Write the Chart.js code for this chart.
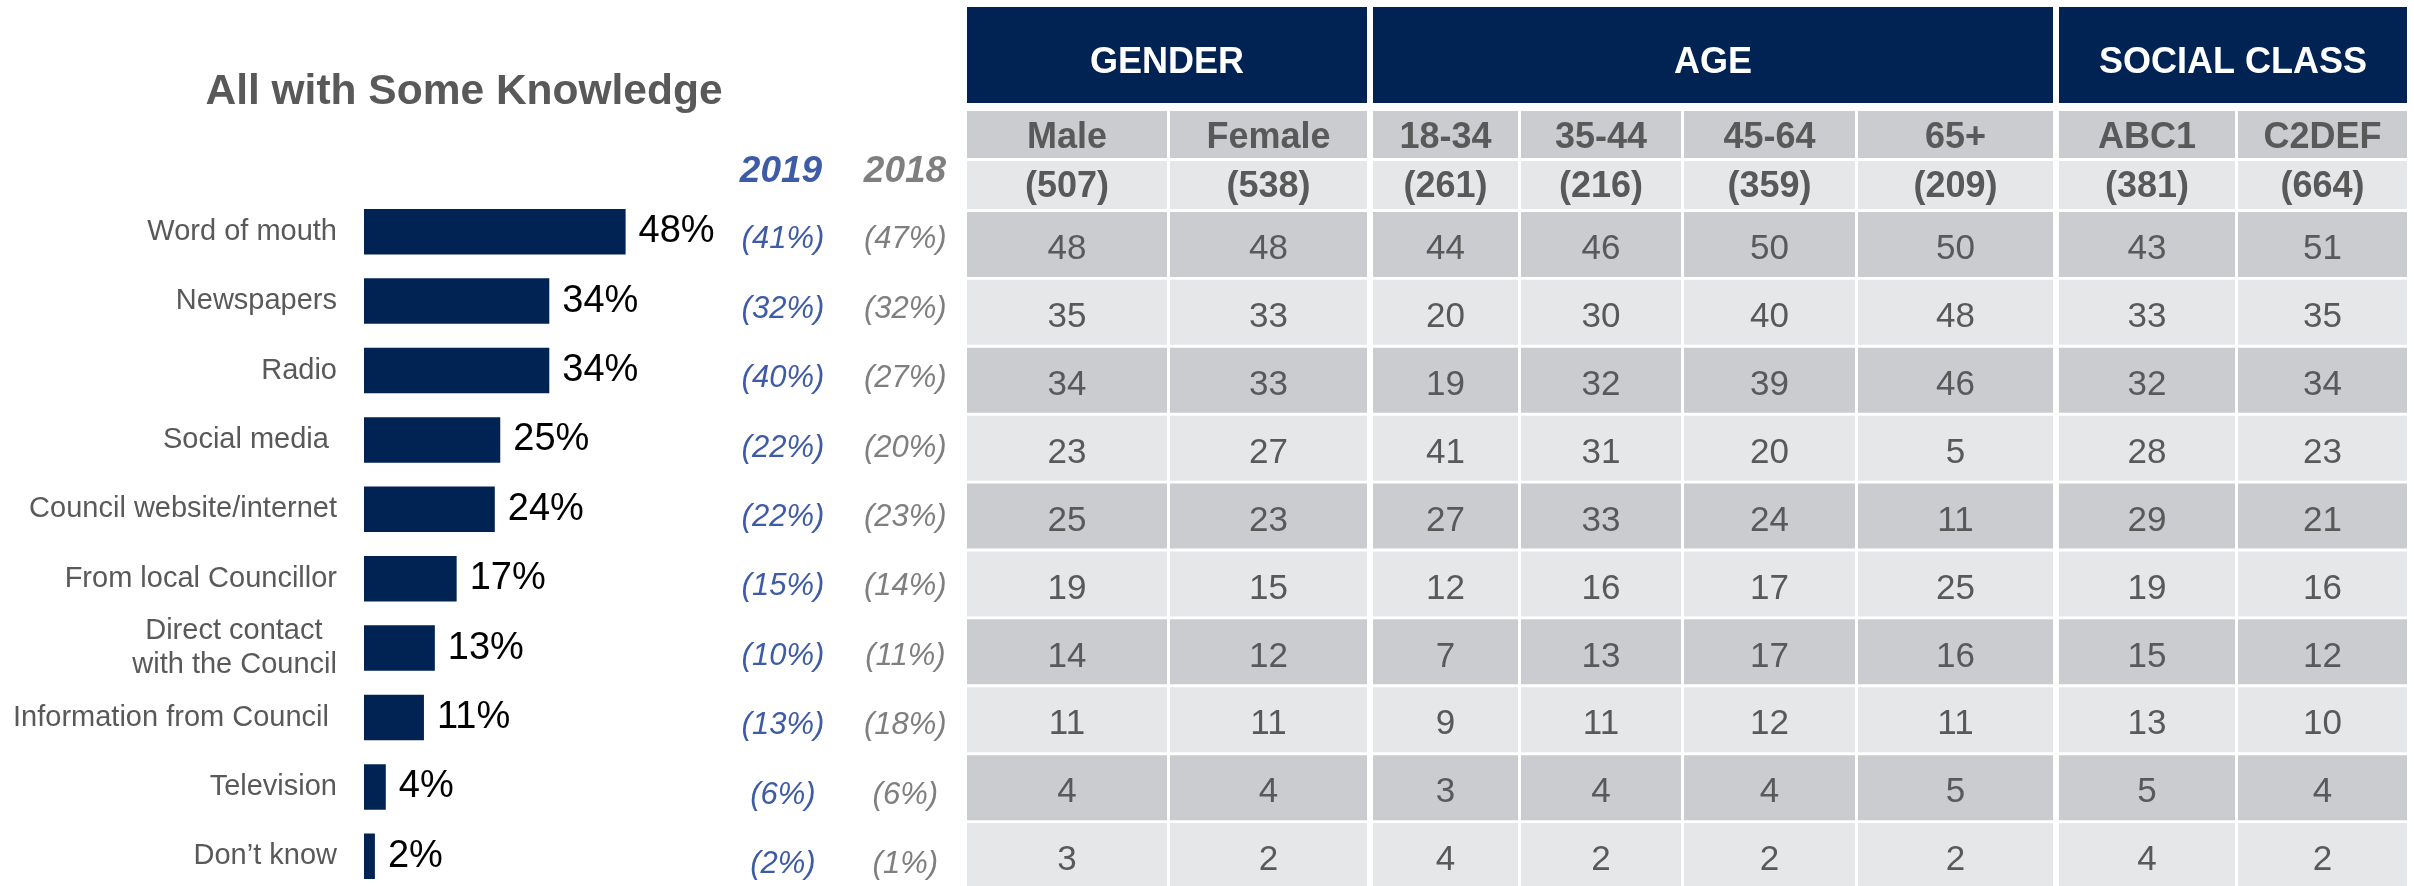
<!DOCTYPE html>
<html>
<head>
<meta charset="utf-8">
<script src="https://cdn.jsdelivr.net/npm/chart.js@4.4.1/dist/chart.umd.min.js"></script>
<style>
  html, body { margin: 0; padding: 0; background: #fff; overflow: hidden; }
  #wrap { position: relative; width: 2414px; height: 886px; overflow: hidden; }
  #left { position: absolute; left: 0; top: 0; width: 966px; height: 896px; }
  #table { position: absolute; left: 966px; top: 0; width: 1448px; height: 896px; }
</style>
</head>
<body>
<div id="wrap">
  <div id="left"><canvas id="bars"></canvas></div>
  <div id="table"><canvas id="grid"></canvas></div>
</div>
<script>
// ---- data ----
var categories = ['Word of mouth', 'Newspapers', 'Radio', 'Social media ', 'Council website/internet',
  'From local Councillor', ['Direct contact\u2002', 'with the Council'], 'Information from Council ',
  'Television', 'Don\u2019t know'];
var current = [48, 34, 34, 25, 24, 17, 13, 11, 4, 2];
var wave2019 = [41, 32, 40, 22, 22, 15, 10, 13, 6, 2];
var wave2018 = [47, 32, 27, 20, 23, 14, 11, 18, 6, 1];

var groups = ['GENDER', 'AGE', 'SOCIAL CLASS'];
var groupSizes = [2, 4, 2];
var columns = ['Male', 'Female', '18-34', '35-44', '45-64', '65+', 'ABC1', 'C2DEF'];
var bases = [507, 538, 261, 216, 359, 209, 381, 664];

var male = [48, 35, 34, 23, 25, 19, 14, 11, 4, 3];
var female = [48, 33, 33, 27, 23, 15, 12, 11, 4, 2];
var age1834 = [44, 20, 19, 41, 27, 12, 7, 9, 3, 4];
var age3544 = [46, 30, 32, 31, 33, 16, 13, 11, 4, 2];
var age4564 = [50, 40, 39, 20, 24, 17, 17, 12, 4, 2];
var age65 = [50, 48, 46, 5, 11, 25, 16, 11, 5, 2];
var abc1 = [43, 33, 32, 28, 29, 19, 15, 13, 5, 4];
var c2def = [51, 35, 34, 23, 21, 16, 12, 10, 4, 2];
var columnValues = [male, female, age1834, age3544, age4564, age65, abc1, c2def];

// ---- look ----
var FONT = '"Liberation Sans", Arial, sans-serif';
var NAVY = '#002353';
var GREY_TEXT = '#595959';
var BLUE = '#3d5ba6';
var GREY_YEAR = '#7f7f7f';
var DARK_ROW = '#cbccd0';
var LIGHT_ROW = '#e6e7e9';

Chart.defaults.font.family = FONT;
Chart.defaults.animation = false;

// column widths of the table (in table units), gaps inside / between groups
var colWidths = [200, 197, 145, 160, 171, 195, 176, 169];
var colEdges = [];
(function () {
  var pos = 1, g = 0, inGroup = 0;
  colWidths.forEach(function (w, i) {
    if (i > 0) {
      inGroup++;
      if (inGroup === groupSizes[g]) { g++; inGroup = 0; pos += 6; } else { pos += 3; }
    }
    colEdges.push([pos, pos + w]);
    pos += w;
  });
})();

// keep axis label overhang from shrinking the plot area
function fixWidth(w) {
  return function (scale) {
    scale.width = w;
    scale.paddingTop = 0;
    scale.paddingBottom = 0;
  };
}

// ---- left: bar chart ----
var leftText = {
  id: 'leftText',
  afterDatasetsDraw: function (chart) {
    var ctx = chart.ctx;
    var meta = chart.getDatasetMeta(0);
    ctx.save();
    ctx.fillStyle = '#000';
    ctx.font = '38px ' + FONT;
    ctx.textAlign = 'left';
    ctx.textBaseline = 'middle';
    meta.data.forEach(function (bar, i) {
      ctx.fillText(current[i] + '%', bar.x + 13, bar.y);
    });

    ctx.textAlign = 'center';
    ctx.textBaseline = 'alphabetic';
    ctx.fillStyle = GREY_TEXT;
    ctx.font = 'bold 42.5px ' + FONT;
    ctx.fillText('All with Some Knowledge', 464, 104);

    ctx.font = 'italic bold 37px ' + FONT;
    ctx.fillStyle = BLUE;
    ctx.fillText('2019', 781, 182);
    ctx.fillStyle = GREY_YEAR;
    ctx.fillText('2018', 905, 182);
    ctx.restore();
  }
};

new Chart('bars', {
  type: 'bar',
  data: {
    labels: categories,
    datasets: [{
      data: current,
      backgroundColor: NAVY,
      barPercentage: 0.655,
      categoryPercentage: 1
    }]
  },
  options: {
    indexAxis: 'y',
    responsive: true,
    maintainAspectRatio: false,
    layout: {padding: {top: 197, bottom: 5, left: 0, right: 0}},
    plugins: {legend: {display: false}, tooltip: {enabled: false}, title: {display: false}},
    scales: {
      x: {min: 0, max: 68, display: false},
      y: {
        grid: {display: false, drawTicks: false},
        border: {display: false},
        ticks: {color: GREY_TEXT, padding: 27, font: {size: 29, lineHeight: 1.17}, autoSkip: false},
        afterFit: fixWidth(364)
      },
      y2: {
        type: 'category',
        position: 'right',
        offset: true,
        labels: wave2019.map(function (v) { return '(' + v + '%)'; }),
        grid: {display: false, drawTicks: false},
        border: {display: false},
        ticks: {color: BLUE, crossAlign: 'center', padding: 7, labelOffset: 8, autoSkip: false,
          font: {size: 31, style: 'italic'}},
        afterFit: fixWidth(108.4)
      },
      y3: {
        type: 'category',
        position: 'right',
        offset: true,
        labels: wave2018.map(function (v) { return '(' + v + '%)'; }),
        grid: {display: false, drawTicks: false},
        border: {display: false},
        ticks: {color: GREY_YEAR, crossAlign: 'center', padding: 21, labelOffset: 8, autoSkip: false,
          font: {size: 31, style: 'italic'}},
        afterFit: fixWidth(123)
      }
    }
  },
  plugins: [leftText]
});

// ---- right: cross-tab drawn as floating bars ----
var tableText = {
  id: 'tableText',
  beforeDatasetsDraw: function (chart) {
    var ctx = chart.ctx;
    var x = chart.scales.x;
    ctx.save();
    ctx.textAlign = 'center';
    ctx.textBaseline = 'alphabetic';
    var first = 0;
    groups.forEach(function (name, g) {
      var last = first + groupSizes[g] - 1;
      var x0 = x.getPixelForValue(colEdges[first][0]);
      var x1 = x.getPixelForValue(colEdges[last][1]);
      ctx.fillStyle = NAVY;
      ctx.fillRect(x0, 7, x1 - x0, 96);
      ctx.fillStyle = '#fff';
      ctx.font = 'bold 36px ' + FONT;
      ctx.fillText(name, (x0 + x1) / 2, 73);
      first = last + 1;
    });
    columns.forEach(function (name, c) {
      var x0 = x.getPixelForValue(colEdges[c][0]);
      var x1 = x.getPixelForValue(colEdges[c][1]);
      ctx.fillStyle = DARK_ROW;
      ctx.fillRect(x0, 111, x1 - x0, 47);
      ctx.fillStyle = LIGHT_ROW;
      ctx.fillRect(x0, 161, x1 - x0, 48);
      ctx.fillStyle = GREY_TEXT;
      ctx.font = 'bold 36px ' + FONT;
      ctx.fillText(name, (x0 + x1) / 2, 148);
      ctx.fillText('(' + bases[c] + ')', (x0 + x1) / 2, 197);
    });
    ctx.restore();
  },
  afterDatasetsDraw: function (chart) {
    var ctx = chart.ctx;
    ctx.save();
    ctx.fillStyle = GREY_TEXT;
    ctx.font = '35px ' + FONT;
    ctx.textAlign = 'center';
    ctx.textBaseline = 'middle';
    columns.forEach(function (name, c) {
      chart.getDatasetMeta(c).data.forEach(function (cell, i) {
        var p = cell.getProps(['x', 'base', 'y'], true);
        ctx.fillText(String(columnValues[c][i]), (p.x + p.base) / 2, p.y + 5);
      });
    });
    ctx.restore();
  }
};

new Chart('grid', {
  type: 'bar',
  data: {
    labels: categories,
    datasets: columns.map(function (name, c) {
      return {
        label: name,
        data: categories.map(function () { return colEdges[c]; }),
        backgroundColor: categories.map(function (cat, i) { return i % 2 ? LIGHT_ROW : DARK_ROW; }),
        grouped: false,
        barPercentage: 0.957,
        categoryPercentage: 1
      };
    })
  },
  options: {
    indexAxis: 'y',
    responsive: true,
    maintainAspectRatio: false,
    layout: {padding: {top: 210.5, bottom: 6.5, left: 0, right: 0}},
    plugins: {legend: {display: false}, tooltip: {enabled: false}},
    scales: {
      x: {type: 'linear', min: 0, max: 1448, display: false},
      y: {display: false}
    }
  },
  plugins: [tableText]
});
</script>
</body>
</html>
